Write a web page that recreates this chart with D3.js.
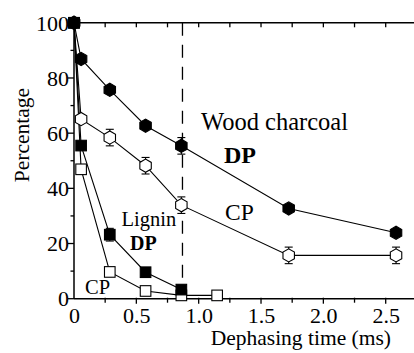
<!DOCTYPE html>
<html>
<head>
<meta charset="utf-8">
<script src="https://cdn.jsdelivr.net/npm/d3@7"></script>
<style>
  body { margin: 0; background: #fff; }
</style>
</head>
<body>
<div id="chart"></div>
<script>
// Dephasing time (ms) for each sample point
const times = [0, 0.057, 0.287, 0.574, 0.861, 1.148, 1.722, 2.583];

// Wood charcoal series
const woodDP = [100, 86.9, 75.7, 62.7, 55.4, null, 32.7, 23.9];
const woodDPerr = [0, 0, 0, 0, 3, null, 0, 0];
const woodCP = [100, 65.1, 58.4, 48.2, 33.9, null, 15.7, 15.7];
const woodCPerr = [0, 0, 3, 3, 3, null, 3, 3];

// Lignin series
const ligninDP = [100, 55.5, 23.2, 9.6, 3.3, null, null, null];
const ligninDPerr = [0, 0, 2.3, 0, 1.5, null, null, null];
const ligninCP = [100, 46.9, 9.7, 2.8, 1.2, 1.2, null, null];

const xTicks = [0, 0.5, 1.0, 1.5, 2.0, 2.5];
const yTicks = [0, 20, 40, 60, 80, 100];
const dashTime = 0.87;

const width = 414, height = 353;
const serif = "Liberation Serif";

const svg = d3.select("#chart").append("svg")
  .attr("width", width)
  .attr("height", height)
  .style("display", "block");

// scales
const x = d3.scaleLinear().domain([0, 2.5]).range([74, 385.7]);
const y = d3.scaleLinear().domain([0, 100]).range([298.7, 22.8]);
const xEnd = width;

// build point lists from the arrays
function pts(vals, errs) {
  return times.map((t, i) => ({ t: t, v: vals[i], e: errs ? errs[i] : 0 }))
    .filter(d => d.v !== null);
}

// dashed vertical line
svg.append("line")
  .attr("x1", x(dashTime)).attr("x2", x(dashTime))
  .attr("y1", y(100)).attr("y2", y(0))
  .attr("stroke", "#000")
  .attr("stroke-width", 1.3)
  .attr("stroke-dasharray", "13,9");

// axes (labels only, lines drawn by hand below)
const xAxis = d3.axisBottom(x)
  .tickValues(xTicks)
  .tickFormat(d => d === 0 ? "0" : d3.format(".1f")(d))
  .tickSize(0);
const gx = svg.append("g").attr("transform", `translate(0,${y(0)})`).call(xAxis);
gx.select(".domain").remove();
gx.selectAll("text").attr("dy", 0).attr("y", 24.5).style("font-size", "22px")
  .style("font-family", serif).attr("fill", "#000");

const yAxis = d3.axisLeft(y).tickValues(yTicks).tickSize(0);
const gy = svg.append("g").attr("transform", `translate(${x(0)},0)`).call(yAxis);
gy.select(".domain").remove();
gy.selectAll("text").attr("x", -5).attr("dy", "0.33em").style("font-size", "22px")
  .style("font-family", serif).attr("fill", "#000");

// axis lines
svg.append("line").attr("x1", x(0)).attr("x2", xEnd).attr("y1", y(0)).attr("y2", y(0))
  .attr("stroke", "#000").attr("stroke-width", 1.5);
svg.append("line").attr("x1", x(0)).attr("x2", xEnd).attr("y1", y(100)).attr("y2", y(100))
  .attr("stroke", "#000").attr("stroke-width", 1.5);
svg.append("line").attr("x1", x(0)).attr("x2", x(0)).attr("y1", y(0)).attr("y2", y(100))
  .attr("stroke", "#000").attr("stroke-width", 1.5);

// x ticks every 0.25 on bottom and top
const xt = d3.range(0.25, 2.75, 0.25);
xt.forEach(t => {
  const major = Math.abs(t * 2 - Math.round(t * 2)) < 1e-6;
  svg.append("line").attr("x1", x(t)).attr("x2", x(t))
    .attr("y1", y(0) - 1).attr("y2", y(0) + (major ? 5 : 4))
    .attr("stroke", "#000").attr("stroke-width", 1.3);
  svg.append("line").attr("x1", x(t)).attr("x2", x(t))
    .attr("y1", y(100)).attr("y2", y(100) + 4.5)
    .attr("stroke", "#000").attr("stroke-width", 1.3);
});
// y ticks every 10
d3.range(0, 101, 10).forEach(v => {
  const major = v % 20 === 0;
  svg.append("line").attr("x1", x(0) - (major ? 6 : 3.5)).attr("x2", x(0))
    .attr("y1", y(v)).attr("y2", y(v))
    .attr("stroke", "#000").attr("stroke-width", 1.3);
});

// hexagon path
function hexPath(r) {
  const p = d3.range(6).map(i => {
    const a = Math.PI / 6 + i * Math.PI / 3;
    return [r * Math.cos(a), r * Math.sin(a)];
  });
  return "M" + p.map(q => q.join(",")).join("L") + "Z";
}

const line = d3.line().x(d => x(d.t)).y(d => y(d.v));

function drawSeries(data, shape, filled) {
  const g = svg.append("g");
  g.append("path").datum(data)
    .attr("d", line)
    .attr("fill", "none")
    .attr("stroke", "#000")
    .attr("stroke-width", 1.1);

  // error bars
  data.filter(d => d.e > 0).forEach(d => {
    const cx = x(d.t);
    g.append("line").attr("x1", cx).attr("x2", cx)
      .attr("y1", y(d.v + d.e)).attr("y2", y(d.v - d.e))
      .attr("stroke", "#000").attr("stroke-width", 1.1);
    [d.v + d.e, d.v - d.e].forEach(v => {
      g.append("line").attr("x1", cx - 4).attr("x2", cx + 4)
        .attr("y1", y(v)).attr("y2", y(v))
        .attr("stroke", "#000").attr("stroke-width", 1.1);
    });
  });

  const m = g.selectAll(".m").data(data).join("g")
    .attr("transform", d => `translate(${x(d.t)},${y(d.v)})`);
  if (shape === "hex") {
    m.append("path").attr("d", hexPath(6.6));
  } else {
    m.append("rect").attr("x", -5.3).attr("y", -5.3).attr("width", 10.6).attr("height", 10.6);
  }
  m.selectAll("path,rect")
    .attr("fill", filled ? "#000" : "#fff")
    .attr("stroke", "#000")
    .attr("stroke-width", 1.1);
}

drawSeries(pts(ligninCP), "sq", false);
drawSeries(pts(ligninDP, ligninDPerr), "sq", true);
drawSeries(pts(woodCP, woodCPerr), "hex", false);
drawSeries(pts(woodDP, woodDPerr), "hex", true);

// labels
function label(txt, px, py, size, bold, anchor) {
  svg.append("text")
    .attr("x", px).attr("y", py)
    .style("font-size", size + "px")
    .style("font-family", serif)
    .style("font-weight", bold ? "bold" : "normal")
    .attr("text-anchor", anchor || "start")
    .attr("fill", "#000")
    .text(txt);
}
label("Wood charcoal", 201, 130, 24.5);
label("DP", 224, 162.5, 24, true);
label("CP", 225, 220, 23.5);
label("Lignin", 121.5, 226, 20.5);
label("DP", 130, 249.5, 20, true);
label("CP", 85, 293.5, 20.5);

// axis titles
label("Dephasing time (ms)", 391, 345, 21.5, false, "end");
svg.append("text")
  .attr("transform", "translate(29,135) rotate(-90)")
  .attr("text-anchor", "middle")
  .style("font-size", "21.5px")
  .style("font-family", serif)
  .attr("fill", "#000")
  .text("Percentage");
</script>
</body>
</html>
